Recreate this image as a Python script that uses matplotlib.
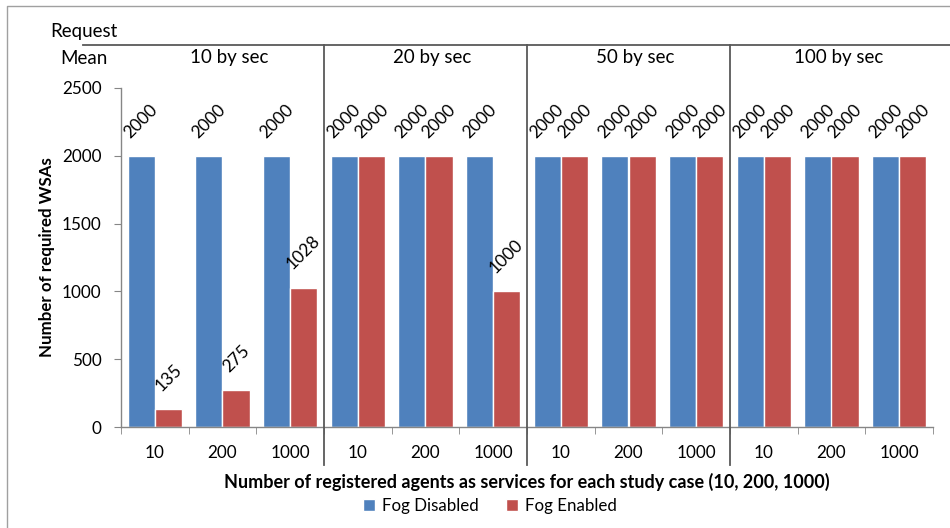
import matplotlib
matplotlib.use("Agg")
import matplotlib.pyplot as plt
from matplotlib.lines import Line2D
from matplotlib.patches import Patch
import matplotlib.transforms as mtransforms
import numpy as np

rate_groups = ["10 by sec", "20 by sec", "50 by sec", "100 by sec"]
agent_counts = ["10", "200", "1000"]
fog_disabled = [2000, 2000, 2000, 2000, 2000, 2000, 2000, 2000, 2000, 2000, 2000, 2000]
fog_enabled = [135, 275, 1028, 2000, 2000, 1000, 2000, 2000, 2000, 2000, 2000, 2000]
series_names = ["Fog Disabled", "Fog Enabled"]
yticks = [0, 500, 1000, 1500, 2000, 2500]

BLUE = "#4F81BD"
RED = "#C0504D"
GRAY = "#868686"
FONT = ["Lato", "DejaVu Sans"]
plt.rcParams["font.family"] = FONT

W, H = 950, 528
fig = plt.figure(figsize=(W / 100, H / 100), dpi=100)
ax = fig.add_axes([121 / W, 1 - 427 / H, (933 - 121) / W, (427 - 88) / H])

n = len(fog_disabled)
x = np.arange(n)
bw = 0.4
b1 = ax.bar(x - bw / 2, fog_disabled, bw, color=BLUE, edgecolor="white", linewidth=1.0, label=series_names[0])
b2 = ax.bar(x + bw / 2, fog_enabled, bw, color=RED, edgecolor="white", linewidth=1.0, label=series_names[1])

for bars, vals in ((b1, fog_disabled), (b2, fog_enabled)):
    for rect, v in zip(bars, vals):
        ax.annotate(str(v), (rect.get_x() + rect.get_width() / 2, v),
                    xytext=(0, 15), textcoords="offset pixels",
                    rotation=45, ha="center", va="bottom", fontsize=12.5, color="black")

ax.set_xlim(-0.5, n - 0.5)
ax.set_ylim(0, 2500)
ax.set_yticks(yticks)
ax.set_yticklabels([str(t) for t in yticks], fontsize=12.3)
ax.set_xticks(x)
ax.set_xticklabels(agent_counts * len(rate_groups), fontsize=12.3)
ax.set_xticks(np.arange(-0.5, n, 1.0), minor=True)
ax.tick_params(axis="x", which="major", length=0, pad=13)
ax.tick_params(axis="x", which="minor", length=5, color=GRAY, direction="out")
ax.tick_params(axis="y", length=5, color=GRAY, direction="out", pad=9)
for s in ("top", "right"):
    ax.spines[s].set_visible(False)
for s in ("left", "bottom"):
    ax.spines[s].set_color(GRAY)
    ax.spines[s].set_linewidth(1.0)

fig.text(47 / W, 1 - 257 / H, "Number of required WSAs", rotation=90, ha="center", va="center",
         fontsize=12.2, fontweight="bold")
fig.text(527 / W, 1 - 482 / H,
         "Number of registered agents as services for each study case (10, 200, 1000)",
         ha="center", va="center", fontsize=13, fontweight="bold")

# group labels and separators
trans = mtransforms.blended_transform_factory(ax.transData, fig.transFigure)
for gi, name in enumerate(rate_groups):
    gc = gi * 3 + 1
    ax.text(gc + 0.1, 1 - 58 / H, name, transform=trans, ha="center", va="center", fontsize=13.5)
    if gi > 0:
        xs = gi * 3 - 0.5
        fig.add_artist(Line2D([xs, xs], [1 - 45 / H, 1 - 465 / H], transform=trans,
                              color="#595959", linewidth=1.3))

fig.text(50 / W, 1 - 31 / H, "Request", ha="left", va="center", fontsize=13.5)
fig.text(60 / W, 1 - 58 / H, "Mean", ha="left", va="center", fontsize=13.5)
fig.add_artist(Line2D([83 / W, 1.0], [1 - 45 / H, 1 - 45 / H], transform=fig.transFigure,
                      color="#595959", linewidth=1.3))
# outer frame
fig.add_artist(Line2D([7 / W, 7 / W, 1.0], [0, 1 - 6 / H, 1 - 6 / H], transform=fig.transFigure,
                      color="#A0A0A0", linewidth=1.0))

handles = [Patch(facecolor=BLUE, edgecolor="white"), Patch(facecolor=RED, edgecolor="white")]
fig.legend(handles, series_names, loc="center", bbox_to_anchor=(490 / W, 1 - 506 / H),
           ncol=2, frameon=False, fontsize=12.2, handlelength=0.7, handleheight=0.7,
           handletextpad=0.4, columnspacing=1.6)

fig.savefig("out.png", dpi=100)
